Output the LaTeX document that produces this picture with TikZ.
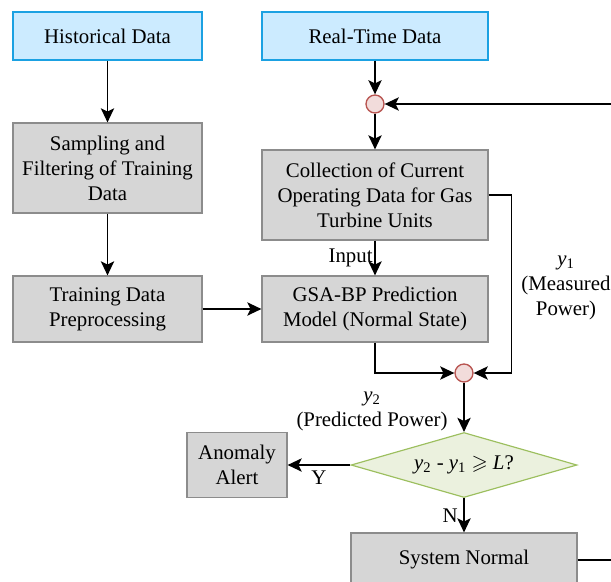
\documentclass[tikz,border=0pt]{standalone}
\usepackage{fontspec}
\setmainfont{Liberation Serif}
\usepackage{amssymb}
\usetikzlibrary{arrows.meta,shapes.geometric}

\definecolor{srcfill}{HTML}{CCEBFF}
\definecolor{srcline}{HTML}{1BA1E2}
\definecolor{stepfill}{HTML}{D6D6D6}
\definecolor{stepline}{HTML}{8C8C8C}
\definecolor{sumfill}{HTML}{F2DCDB}
\definecolor{sumline}{HTML}{B85450}
\definecolor{askfill}{HTML}{EBF1DE}
\definecolor{askline}{HTML}{9CBF5E}

\tikzset{
	txt/.style={font=\fontsize{12.5}{15}\selectfont, align=center},
	srcbox/.style={txt, draw=srcline, fill=srcfill, line width=0.7pt, inner sep=1pt, minimum height=28.8pt},
	stepbox/.style={txt, draw=stepline, fill=stepfill, line width=0.7pt, inner sep=1pt},
	sumpt/.style={circle, draw=sumline, fill=sumfill, line width=0.8pt, inner sep=0pt, minimum size=10.8pt},
	askbox/.style={txt, diamond, draw=askline, fill=askfill, line width=0.7pt, inner sep=0pt, aspect=3.5, minimum width=135.6pt, minimum height=39pt},
	flow/.style={draw, line width=0.9pt, -{Stealth[length=8.5pt,width=8pt,inset=2pt]}},
}

\begin{document}
\begin{tikzpicture}[x=0.6pt,y=-0.6pt]
	\useasboundingbox (0,0) rectangle (611,581);

	% data sources
	\node[srcbox, minimum width=113.4pt] (hist) at (107.5,36) {Historical Data};
	\node[srcbox, minimum width=135.6pt] (real) at (375,36) {Real-Time Data};

	% training branch
	\node[stepbox, minimum width=113.4pt, minimum height=54pt] (samp) at (107.5,168) {Sampling and\\Filtering of Training\\Data};
	\node[stepbox, minimum width=113.4pt, minimum height=39.6pt] (train) at (107.5,309) {Training Data\\Preprocessing};

	% online branch
	\node[sumpt] (sum1) at (375,104) {};
	\node[stepbox, minimum width=135.6pt, minimum height=54pt] (coll) at (375,195) {Collection of Current\\Operating Data for Gas\\Turbine Units};
	\node[stepbox, minimum width=135.6pt, minimum height=39.6pt] (gsa) at (375,309) {GSA-BP Prediction\\Model (Normal State)};
	\node[sumpt] (sum2) at (464,373) {};
	\node[askbox] (ask) at (464,465) {\textit{y}\textsubscript{2} - \textit{y}\textsubscript{1} $\geqslant$ \textit{L}?};
	\node[stepbox, minimum width=60pt, minimum height=39pt] (alarm) at (237,465) {Anomaly\\Alert};
	\node[stepbox, minimum width=135.6pt, minimum height=32.4pt] (normal) at (464,560) {System Normal};

	% signal labels
	\node[txt] (yone) at (566,288) {\textit{y}\textsubscript{1}\\(Measured\\Power)};
	\node[txt] (ytwo) at (372,411) {\textit{y}\textsubscript{2}\\(Predicted Power)};

	% connectors
	\draw[flow] (hist) -- (samp);
	\draw[flow] (samp) -- (train);
	\draw[flow] (train) -- (gsa);
	\draw[flow] (real) -- (sum1);
	\draw[flow] (sum1) -- (coll);
	\draw[flow] (coll) -- node[txt, left, inner sep=1pt] {Input} (gsa);
	\draw[flow] (coll.east) -- ++(23,0) |- (sum2);
	\draw[flow] (gsa.south) |- (sum2);
	\draw[flow] (sum2) -- (ask);
	\draw[flow] (ask) -- node[txt, below] {Y} (alarm);
	\draw[flow] (ask) -- node[txt, left] {N} (normal);
	\draw[flow] (normal.east) -- ++(60,0) |- (sum1);
\end{tikzpicture}
\end{document}
